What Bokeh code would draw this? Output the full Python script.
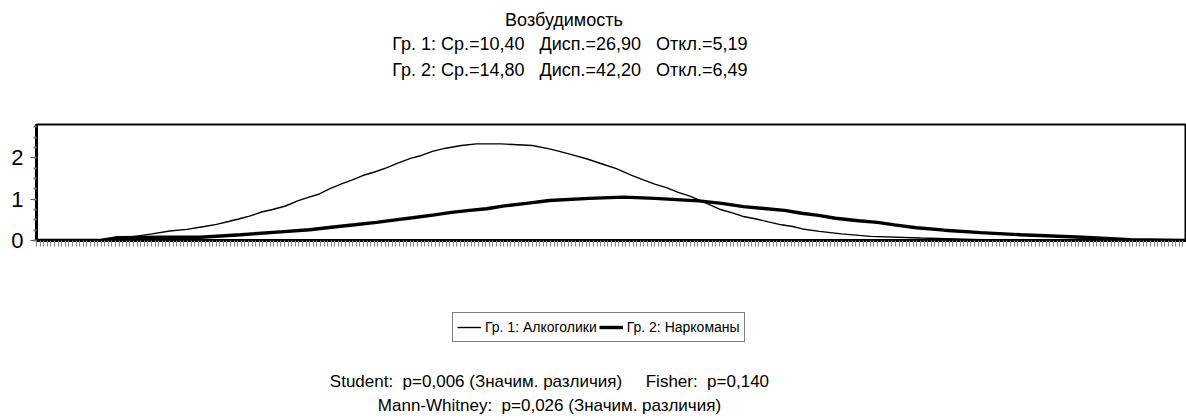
from bokeh.plotting import figure
from bokeh.layouts import column
from bokeh.models import Legend, LegendItem, FixedTicker, Range1d
from bokeh.core.properties import value
from bokeh.embed import file_html
from bokeh.resources import INLINE

# Group 1 (thin line)
x1 = [-6.0, -3.5, -1.97, -1.37, -0.78, -0.16, 0.26, 0.68, 1.03, 1.41, 1.83, 2.21, 2.63, 2.85,
      3.08, 3.43, 3.81, 4.19, 4.61, 4.99, 5.37, 5.76, 6.17, 6.59, 7.01, 7.39, 7.77, 8.19, 8.78,
      9.30, 10.17, 11.25, 11.84, 12.19, 12.61, 13.13, 13.65, 14.17, 14.66, 15.11, 15.53, 15.91,
      16.30, 16.75, 17.41, 17.79, 18.21, 18.59, 19.04, 19.46, 19.91, 20.30, 20.64, 21.23, 22.00,
      23.01, 24.75, 27.53, 34.0]
y1 = [0.0, 0.01, 0.16, 0.23, 0.27, 0.34, 0.39, 0.46, 0.52, 0.59, 0.69, 0.75, 0.83, 0.89,
      0.96, 1.04, 1.12, 1.25, 1.37, 1.47, 1.58, 1.66, 1.76, 1.88, 1.99, 2.06, 2.16, 2.23, 2.30,
      2.34, 2.34, 2.30, 2.22, 2.16, 2.08, 1.98, 1.86, 1.74, 1.59, 1.47, 1.36, 1.28,
      1.17, 1.07, 0.87, 0.75, 0.67, 0.58, 0.52, 0.45, 0.38, 0.34, 0.28, 0.22, 0.16,
      0.10, 0.06, 0.01, 0.0]

# Group 2 (thick line)
x2 = [-6.0, -3.77, -3.18, -1.62, -0.30, 1.10, 2.49, 3.50, 4.26, 5.06, 5.83, 6.49, 7.08, 7.84,
      8.43, 9.06, 9.65, 10.28, 11.04, 11.84, 13.23, 14.42, 15.50, 17.03, 17.83, 18.59, 19.39,
      20.02, 20.61, 21.20, 21.79, 22.59, 23.25, 23.84, 24.61, 25.58, 26.83, 28.23, 30.38,
      32.05, 34.0]
y2 = [0.0, 0.0, 0.07, 0.08, 0.08, 0.14, 0.21, 0.26, 0.32, 0.38, 0.44, 0.50, 0.55, 0.62,
      0.68, 0.73, 0.77, 0.84, 0.90, 0.97, 1.02, 1.05, 1.02, 0.96, 0.90, 0.82, 0.77,
      0.73, 0.66, 0.61, 0.54, 0.48, 0.44, 0.38, 0.31, 0.25, 0.19, 0.14, 0.08,
      0.02, 0.0]

S = "\u00a0"
title_lines = ["Возбудимость",
               "Гр. 1: Ср.=10,40" + S * 3 + "Дисп.=26,90" + S * 3 + "Откл.=5,19",
               "Гр. 2: Ср.=14,80" + S * 3 + "Дисп.=42,20" + S * 3 + "Откл.=6,49"]
series_names = ["Гр. 1: Алкоголики", "Гр. 2: Наркоманы"]
stat_lines = ["Student:" + S * 2 + "p=0,006 (Значим. различия)" + S * 5 + "Fisher:" + S * 2 + "p=0,140",
              "Mann-Whitney:" + S * 2 + "p=0,026 (Значим. различия)"]
y_ticks = [0, 1, 2]

FONT = "Liberation Sans"
W = 1186


def text_panel(h):
    f = figure(width=W, height=h, output_backend="svg", toolbar_location=None,
               x_range=Range1d(0, W), y_range=Range1d(0, h),
               x_axis_type=None, y_axis_type=None,
               min_border=0, outline_line_color=None)
    f.grid.visible = False
    return f


# ---- title block (page y 0..122) ----
top = text_panel(122)
top.text(x=[544, 550, 550], y=[103, 79, 53], text=title_lines,
         text_align="center", text_baseline="middle",
         text_font=value(FONT), text_font_size="18px", text_color="black")

# ---- main chart (page y 122..260, frame 124..240) ----
p = figure(width=W, height=138, output_backend="svg", toolbar_location=None,
           x_range=Range1d(-6, 34), y_range=Range1d(0, 2.81),
           min_border_left=36, min_border_right=0, min_border_top=2, min_border_bottom=20)
p.xgrid.visible = False
p.ygrid.visible = False
p.outline_line_color = "black"
p.outline_line_width = 2

p.yaxis.ticker = FixedTicker(ticks=y_ticks, minor_ticks=[0.25 * i for i in range(12)])
p.yaxis.axis_line_width = 3
p.yaxis.major_tick_out = 6
p.yaxis.major_tick_in = 0
p.yaxis.minor_tick_out = 3
p.yaxis.minor_tick_in = 0
p.yaxis.major_tick_line_color = "#555555"
p.yaxis.minor_tick_line_color = "#777777"
p.yaxis.minor_tick_line_width = 2
p.yaxis.major_label_text_font = FONT
p.yaxis.major_label_text_font_size = "22px"
p.yaxis.major_label_text_color = "black"
p.yaxis.major_label_standoff = 7

p.xaxis.ticker = FixedTicker(ticks=[], minor_ticks=[-6 + 0.125 * i for i in range(321)])
p.xaxis.axis_line_width = 3
p.xaxis.major_tick_out = 6
p.xaxis.major_tick_in = 0
p.xaxis.minor_tick_out = 6
p.xaxis.minor_tick_in = 0
p.xaxis.minor_tick_line_color = "#888888"
p.xaxis.major_label_standoff = 0

p.line(x1, y1, line_color="black", line_width=1.4)
p.line(x2, y2, line_color="black", line_width=3.4)

# ---- legend + statistics block (page y 260..420) ----
bottom = text_panel(160)
g1 = bottom.line(x1, y1, line_color="black", line_width=1.4, visible=False)
g2 = bottom.line(x2, y2, line_color="black", line_width=3.4, visible=False)
legend = Legend(items=[LegendItem(label=series_names[0], renderers=[g1]),
                       LegendItem(label=series_names[1], renderers=[g2])],
                orientation="horizontal", location=(416, 78),
                border_line_color="black", border_line_width=1.5,
                label_text_font=FONT, label_text_font_size="14px", label_text_color="black",
                glyph_width=24, glyph_height=20, spacing=2, padding=4, margin=0,
                label_standoff=4, background_fill_alpha=1.0,
                inactive_fill_alpha=0.0)
bottom.add_layout(legend, "center")

bottom.text(x=[529, 529], y=[39, 15], text=stat_lines,
            text_align="center", text_baseline="middle",
            text_font=value(FONT), text_font_size="17px", text_color="black")

layout = column(top, p, bottom, spacing=0)
open("out.html", "w").write(file_html(layout, INLINE))
